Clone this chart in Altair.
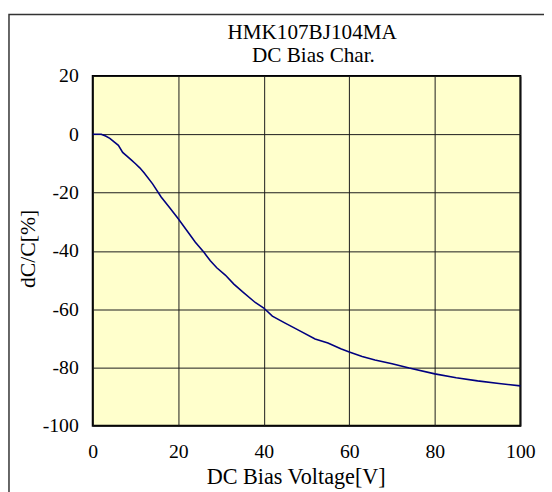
import altair as alt
import pandas as pd

# ---- data ----
title_lines = ["HMK107BJ104MA", "DC Bias Char."]
x_title = "DC Bias Voltage[V]"
y_title = "dC/C[%]"
x_ticks = [0, 20, 40, 60, 80, 100]
y_ticks = [-100, -80, -60, -40, -20, 0, 20]

voltage = [0, 1, 2, 3, 4, 5, 6, 7, 8, 9, 10, 11, 12, 14, 16, 18, 20, 22, 24, 26,
           27.5, 29, 31, 33, 35, 38, 40, 42, 45, 48, 52, 55, 58, 60, 63, 66, 70,
           74, 80, 85, 90, 95, 100]
dcc = [0, 0, 0, -0.6, -1.4, -2.6, -3.8, -6.2, -7.5, -8.8, -10.1, -11.5, -13.2,
       -17, -21.5, -25.2, -29, -33, -37, -40.5, -43.4, -45.8, -48.3, -51.4, -54,
       -57.7, -59.6, -62.4, -64.8, -67.1, -70.2, -71.6, -73.6, -74.7, -76.2,
       -77.4, -78.7, -80.2, -82.2, -83.5, -84.6, -85.5, -86.3]

df = pd.DataFrame({"v": voltage, "c": dcc})

FONT = "Liberation Serif, DejaVu Serif, serif"
W, H = 434, 355

frame = alt.Chart(pd.DataFrame({"k": [0]})).mark_rect(
    fill=None, stroke="#333333", strokeWidth=1.5
).encode(
    x=alt.value(-85), x2=alt.value(480),
    y=alt.value(-62.4), y2=alt.value(440)
)

line = alt.Chart(df).mark_line(color="#000080", strokeWidth=1.6).encode(
    x=alt.X("v:Q",
            scale=alt.Scale(domain=[0, 100], nice=False, zero=False),
            axis=alt.Axis(values=x_ticks, title=x_title, grid=True,
                          gridColor="#1a1a1a", gridWidth=1, ticks=False,
                          tickSize=0, domain=False, labelFont=FONT,
                          labelFontSize=20, labelColor="black",
                          labelPadding=16.5, labelFlush=False,
                          labelOverlap=False,
                          labelExpr="'' + datum.value",
                          titleFont=FONT, titleFontSize=22.5,
                          titleFontWeight="normal", titleColor="black",
                          titleX=206, titleY=58.3,
                          titleBaseline="alphabetic", titleAlign="center")),
    y=alt.Y("c:Q",
            scale=alt.Scale(domain=[-100, 20], nice=False, zero=False),
            axis=alt.Axis(values=y_ticks, title=y_title, grid=True,
                          gridColor="#1a1a1a", gridWidth=1, ticks=False,
                          tickSize=0, domain=False, labelFont=FONT,
                          labelFontSize=20, labelColor="black",
                          labelPadding=14.7, labelOverlap=False,
                          labelExpr="'' + datum.value",
                          titleFont=FONT, titleFontSize=22,
                          titleFontWeight="normal", titleColor="black",
                          titleX=-59, titleY=175, titleAngle=270,
                          titleBaseline="alphabetic", titleAlign="center")),
)

t1 = alt.Chart(pd.DataFrame({"t": [title_lines[0]]})).mark_text(
    font=FONT, fontSize=21.5, color="black", align="center", baseline="alphabetic"
).encode(text="t:N", x=alt.value(222.7), y=alt.value(-37.9))

t2 = alt.Chart(pd.DataFrame({"t": [title_lines[1]]})).mark_text(
    font=FONT, fontSize=21.5, color="black", align="center", baseline="alphabetic"
).encode(text="t:N", x=alt.value(224), y=alt.value(-13.9))

chart = alt.layer(frame, line, t1, t2).properties(
    width=W, height=H,
    padding={"left": 86, "top": 65.4, "right": 24, "bottom": 63.6},
    autosize=alt.AutoSizeParams(type="none"),
    background="white",
).configure_view(fill="#FFFFCC", stroke="black", strokeWidth=2)

chart.save("out.html", embed_options={"renderer": "svg", "actions": False})
